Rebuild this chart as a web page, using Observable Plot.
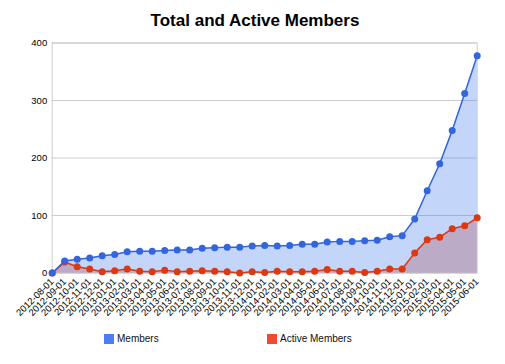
<!DOCTYPE html>
<html>
<head>
<meta charset="utf-8">
<script src="https://cdn.jsdelivr.net/npm/d3@7"></script>
<script src="https://cdn.jsdelivr.net/npm/@observablehq/plot@0.6"></script>
<style>
  html, body { margin: 0; padding: 0; background: #fff; }
  body { width: 505px; height: 364px; overflow: hidden; font-family: "Liberation Sans", Arial, sans-serif; }
  #title { height: 30px; box-sizing: border-box; padding-top: 12px; padding-left: 5px; text-align: center; font-size: 17px; line-height: 17px; font-weight: bold; color: #000; }
  #legend { position: relative; height: 34px; font-size: 10px; color: #111; }
  .item { position: absolute; top: 3px; display: flex; align-items: center; }
  .sw { width: 10px; height: 10px; margin-right: 3px; }
</style>
</head>
<body>
<div id="title">Total and Active Members</div>
<div id="chart"></div>
<div id="legend"></div>
<script>
const months = ["2012-08-01","2012-09-01","2012-10-01","2012-11-01","2012-12-01",
  "2013-01-01","2013-02-01","2013-03-01","2013-04-01","2013-05-01","2013-06-01","2013-07-01","2013-08-01","2013-09-01","2013-10-01","2013-11-01","2013-12-01",
  "2014-01-01","2014-02-01","2014-03-01","2014-04-01","2014-05-01","2014-06-01","2014-07-01","2014-08-01","2014-09-01","2014-10-01","2014-11-01","2014-12-01",
  "2015-01-01","2015-02-01","2015-03-01","2015-04-01","2015-05-01","2015-06-01"];
const members = [0,21,24,26,30,32,37,38,38,39,40,40,43,44,45,45,47,48,47,48,50,50,54,55,55,56,57,63,65,94,143,190,248,312,378];
const activeMembers = [0,19,11,7,2,4,7,3,2,5,2,3,4,3,2,0,2,1,3,2,2,3,6,3,3,1,3,7,7,35,58,62,77,82,96];
const yTicks = [0,100,200,300,400];
const seriesNames = ["Members","Active Members"];
const lineColors = ["#3366dd","#dc3912"];
const areaColors = ["#3d75f0","#dc3912"];
const legendColors = ["#4d7cf4","#f04a30"];

const dm = months.map((m,i) => ({month: m, value: members[i]}));
const da = months.map((m,i) => ({month: m, value: activeMembers[i]}));

const chart = Plot.plot({
  width: 505,
  height: 300,
  marginTop: 12.5,
  marginBottom: 57.5,
  marginLeft: 51.7,
  marginRight: 28.3,
  style: {fontFamily: "Liberation Sans, Arial, sans-serif", fontSize: "9.5px", color: "#222"},
  x: {type: "point", domain: months, padding: 0, round: false, label: null},
  y: {domain: [0,400], label: null},
  marks: [
    Plot.gridY(yTicks, {stroke: "#cccccc", strokeOpacity: 1}),
    Plot.frame({stroke: "#cccccc"}),
    Plot.areaY(da, {x: "month", y: "value", fill: areaColors[1], fillOpacity: 0.3}),
    Plot.areaY(dm, {x: "month", y: "value", fill: areaColors[0], fillOpacity: 0.3}),
    Plot.lineY(da, {x: "month", y: "value", stroke: lineColors[1], strokeWidth: 1.5}),
    Plot.dot(da, {x: "month", y: "value", fill: lineColors[1], r: 3.5}),
    Plot.lineY(dm, {x: "month", y: "value", stroke: lineColors[0], strokeWidth: 1.5}),
    Plot.dot(dm, {x: "month", y: "value", fill: lineColors[0], r: 3.5}),
    Plot.axisX({tickRotate: -45, tickSize: 0, tickPadding: 7, fontSize: 9.5, fill: "#000"}),
    Plot.axisY({ticks: yTicks, tickSize: 0, tickPadding: 5, fontSize: 9.5, fill: "#000"})
  ]
});
document.getElementById("chart").appendChild(chart);

const leg = document.getElementById("legend");
const lefts = [104, 267];
seriesNames.forEach((n,i) => {
  const d = document.createElement("div");
  d.className = "item";
  d.style.left = lefts[i] + "px";
  d.innerHTML = `<div class="sw" style="background:${legendColors[i]}"></div><span>${n}</span>`;
  leg.appendChild(d);
});
</script>
</body>
</html>
